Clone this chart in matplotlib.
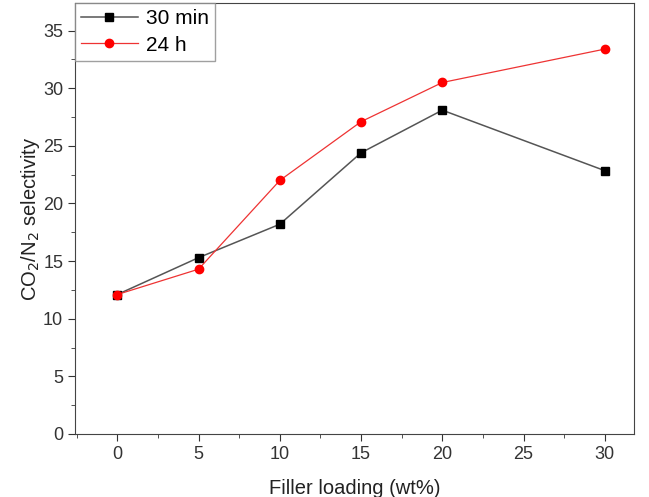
import matplotlib
matplotlib.use("Agg")
import matplotlib.pyplot as plt
from matplotlib.ticker import MultipleLocator

plt.rcParams["font.family"] = ["Liberation Sans", "DejaVu Sans"]

loading = [0, 5, 10, 15, 20, 30]
sel_30min = [12.1, 15.3, 18.2, 24.4, 28.1, 22.85]
sel_24h = [12.1, 14.3, 22.0, 27.1, 30.5, 33.4]

fig = plt.figure(figsize=(6.49, 4.97), dpi=100)
ax = fig.add_axes([0.1156, 0.1268, 0.8614, 0.8672])

ax.plot(loading, sel_30min, color="#555555", lw=1.1, marker="s", ms=5.5,
        mfc="black", mec="black", label="30 min")
ax.plot(loading, sel_24h, color="#ee3333", lw=0.9, marker="o", ms=6,
        mfc="red", mec="red", label="24 h")

ax.set_xlim(-2.6, 31.8)
ax.set_ylim(0, 37.4)
ax.xaxis.set_major_locator(MultipleLocator(5))
ax.xaxis.set_minor_locator(MultipleLocator(2.5))
ax.yaxis.set_major_locator(MultipleLocator(5))
ax.yaxis.set_minor_locator(MultipleLocator(2.5))
ax.tick_params(which="both", direction="out", color="#333333", labelsize=13,
               labelcolor="#333333")
ax.tick_params(which="major", length=5)
ax.tick_params(which="minor", length=3)
for s in ax.spines.values():
    s.set_color("#444444")

ax.set_xlabel("Filler loading (wt%)", fontsize=14.5, color="#222222", labelpad=12)
ax.set_ylabel("CO$_2$/N$_2$ selectivity", fontsize=14.5, color="#222222", labelpad=1)

leg = ax.legend(loc="upper left", fontsize=15, frameon=True, fancybox=False,
                borderaxespad=0, handlelength=2.7, borderpad=0.3,
                labelspacing=0.35, handletextpad=0.4)
leg.get_frame().set_edgecolor("#888888")
leg.get_frame().set_linewidth(1.0)

fig.savefig("out.png", dpi=100)
